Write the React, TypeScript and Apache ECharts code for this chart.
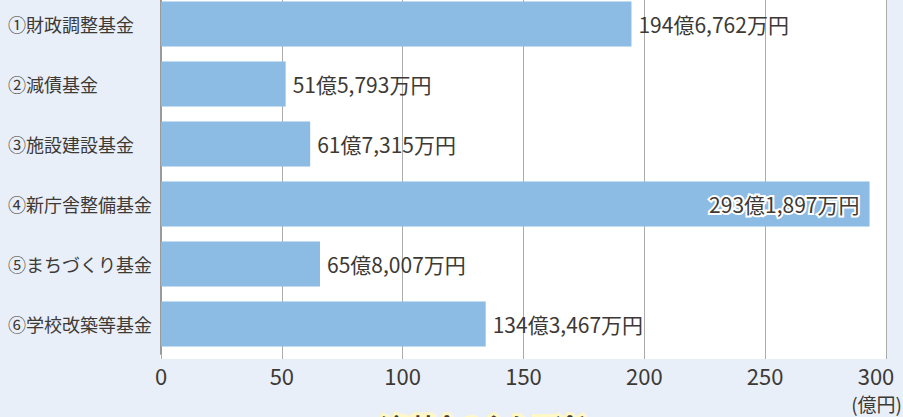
import React, { useEffect, useRef } from "react";
import * as echarts from "echarts";

const categories = [
  "①財政調整基金",
  "②減債基金",
  "③施設建設基金",
  "④新庁舎整備基金",
  "⑤まちづくり基金",
  "⑥学校改築等基金",
];
const values = [194.6762, 51.5793, 61.7315, 293.1897, 65.8007, 134.3467];
const valueLabels = [
  "194億6,762万円",
  "51億5,793万円",
  "61億7,315万円",
  "293億1,897万円",
  "65億8,007万円",
  "134億3,467万円",
];
const insideIndex = 3;
const axisUnit = "(億円)";
const footerTitle = "〈各基金の主な用途〉";

const FONT = '"Noto Sans CJK JP", "Noto Sans", sans-serif';
const TEXT = "#3d3935";
const BAR = "#8cbbe3";
const GRIDC = "#ababab";
const OFF = 6; // chart canvas starts 6px above the page top

export default function App() {
  const ref = useRef<HTMLDivElement>(null);
  useEffect(() => {
    if (!ref.current) return;
    const chart = echarts.init(ref.current, null, { renderer: "svg" });
    chart.setOption({
      animation: false,
      backgroundColor: "#e8eff9",
      textStyle: { fontFamily: FONT },
      grid: { left: 161, right: 17, top: 0, bottom: 417 + OFF - 354 - OFF, containLabel: false },
      xAxis: {
        type: "value",
        min: 0,
        max: 300,
        interval: 50,
        axisLine: { show: false },
        axisTick: { show: true, length: 5, lineStyle: { color: GRIDC, width: 1 } },
        splitLine: { show: true, lineStyle: { color: GRIDC, width: 1 } },
        axisLabel: {
          fontFamily: FONT,
          fontSize: 22,
          color: TEXT,
          margin: 10,
          formatter: (v: number) => (v === 300 ? "{r|300}" : String(v)),
          rich: {
            r: { fontFamily: FONT, fontSize: 22, color: TEXT, padding: [0, 20, 0, 0] },
          },
        },
      },
      yAxis: {
        type: "category",
        data: categories,
        inverse: true,
        axisLine: { show: true, lineStyle: { color: "#9a9a9a", width: 2 } },
        axisTick: { show: false },
        axisLabel: {
          fontFamily: FONT,
          fontSize: 18,
          color: TEXT,
          align: "left",
          margin: 153,
        },
      },
      graphic: [
        {
          type: "rect",
          z: -1,
          shape: { x: 160, y: 0, width: 727, height: 359 + OFF },
          style: { fill: "#ffffff" },
        },
        {
          type: "text",
          x: 902,
          y: 403 + OFF,
          style: {
            text: axisUnit,
            fontFamily: FONT,
            fontSize: 19,
            fill: TEXT,
            textAlign: "right",
            textVerticalAlign: "middle",
          },
        },
        {
          type: "text",
          x: 483,
          y: 413 + OFF,
          style: {
            text: footerTitle,
            fontFamily: FONT,
            fontSize: 24,
            fontWeight: "bold",
            fill: TEXT,
            stroke: "#fff7c4",
            lineWidth: 6,
            textAlign: "center",
            textVerticalAlign: "top",
          },
        },
      ],
      series: [
        {
          type: "bar",
          barWidth: 45,
          itemStyle: { color: BAR },
          label: {
            show: true,
            position: "right",
            distance: 7,
            fontFamily: FONT,
            fontSize: 21,
            color: TEXT,
            formatter: (p: any) => valueLabels[p.dataIndex],
          },
          data: values.map((v, i) =>
            i === insideIndex
              ? {
                  value: v,
                  label: {
                    position: "insideRight",
                    distance: 10,
                    textBorderColor: "#ffffff",
                    textBorderWidth: 4,
                  },
                }
              : v
          ),
        },
      ],
    });
    return () => chart.dispose();
  }, []);
  return (
    <div
      style={{ position: "fixed", left: 0, top: 0, width: 903, height: 417, overflow: "hidden" }}
    >
      <div
        ref={ref}
        style={{ position: "absolute", left: 0, top: -OFF, width: 903, height: 417 + OFF }}
      />
    </div>
  );
}
